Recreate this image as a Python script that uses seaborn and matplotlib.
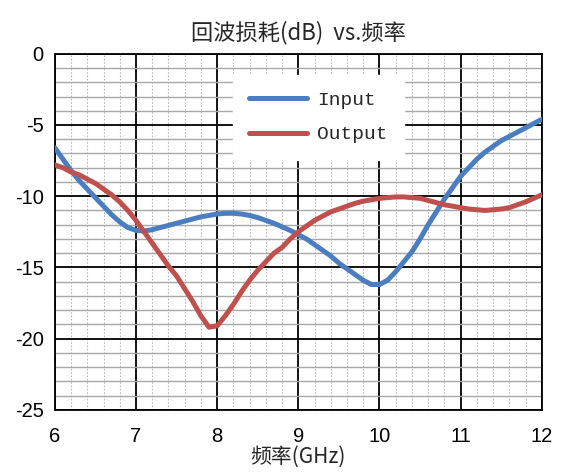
import numpy as np
import pandas as pd
import matplotlib
matplotlib.use("Agg")
import matplotlib.pyplot as plt
import seaborn as sns
from matplotlib.ticker import MultipleLocator

# --- Data (GHz, dB) ---
freq = [6.0, 6.1, 6.2, 6.3, 6.4, 6.5, 6.6, 6.7, 6.8, 6.9,
        7.0, 7.1, 7.2, 7.3, 7.4, 7.5, 7.6, 7.7, 7.8, 7.9,
        8.0, 8.1, 8.2, 8.3, 8.4, 8.5, 8.6, 8.7, 8.8, 8.9,
        9.0, 9.1, 9.2, 9.3, 9.4, 9.5, 9.6, 9.7, 9.8, 9.9,
        10.0, 10.1, 10.2, 10.3, 10.4, 10.5, 10.6, 10.7, 10.8, 10.9,
        11.0, 11.1, 11.2, 11.3, 11.4, 11.5, 11.6, 11.7, 11.8, 11.9,
        12.0]

input_db = [-6.6, -7.4, -8.2, -8.9, -9.5, -10.1, -10.7, -11.3, -11.8, -12.2,
            -12.4, -12.45, -12.35, -12.2, -12.05, -11.9, -11.75, -11.6, -11.45, -11.35,
            -11.25, -11.2, -11.2, -11.25, -11.35, -11.5, -11.7, -11.9, -12.15, -12.4,
            -12.7, -13.0, -13.4, -13.8, -14.2, -14.7, -15.1, -15.5, -15.9, -16.2,
            -16.2, -15.9, -15.3, -14.6, -13.9, -13.0, -12.0, -11.1, -10.2, -9.4,
            -8.6, -8.0, -7.4, -6.9, -6.5, -6.1, -5.8, -5.5, -5.2, -4.9,
            -4.6]

output_db = [-7.8, -8.0, -8.3, -8.5, -8.8, -9.1, -9.5, -9.9, -10.4, -11.0,
             -11.7, -12.5, -13.3, -14.1, -14.9, -15.6, -16.5, -17.4, -18.4, -19.2,
             -19.1, -18.4, -17.6, -16.7, -15.9, -15.2, -14.6, -14.0, -13.6, -13.0,
             -12.5, -12.1, -11.7, -11.4, -11.1, -10.9, -10.7, -10.5, -10.35, -10.25,
             -10.15, -10.1, -10.05, -10.05, -10.1, -10.15, -10.3, -10.45, -10.6, -10.7,
             -10.8, -10.9, -10.95, -11.0, -10.95, -10.9, -10.8, -10.6, -10.4, -10.15,
             -9.9]

series_names = ["Input", "Output"]
series_colors = ["#4A7EC0", "#C0504D"]

title_text = "回波损耗(dB)  vs.频率"
xlabel_text = "频率(GHz)"

df = pd.DataFrame({
    "freq": freq * 2,
    "db": input_db + output_db,
    "series": [series_names[0]] * len(freq) + [series_names[1]] * len(freq),
})

sns.set_style("white")
plt.rcParams["font.family"] = ["Noto Sans CJK SC", "DejaVu Sans"]
plt.rcParams["axes.unicode_minus"] = False

fig = plt.figure(figsize=(5.65, 4.76), dpi=100)
ax = fig.add_axes([0.097, 0.139, 0.862, 0.748])

sns.lineplot(data=df, x="freq", y="db", hue="series", hue_order=series_names,
             palette=series_colors, linewidth=3.6, ax=ax, zorder=5, legend=True)

ax.set_xlim(6, 12)
ax.set_ylim(-25, 0)
ax.xaxis.set_major_locator(MultipleLocator(1))
ax.xaxis.set_minor_locator(MultipleLocator(0.2))
ax.yaxis.set_major_locator(MultipleLocator(5))
ax.yaxis.set_minor_locator(MultipleLocator(1))

# grid: minor first, then major on top
ax.set_axisbelow(True)
ax.grid(which="minor", axis="x", color="#b8b8b8", linestyle=(0, (1.5, 1.5)), linewidth=0.8)
ax.grid(which="minor", axis="y", color="#a8a8a8", linestyle="-", linewidth=1.0)
ax.grid(which="major", axis="both", color="black", linestyle="-", linewidth=1.3)

for sp in ax.spines.values():
    sp.set_color("black")
    sp.set_linewidth(1.3)

ax.tick_params(which="major", direction="inout", length=8, width=1.3, colors="black")
ax.tick_params(which="minor", direction="in", length=4, width=1.0, colors="black")
for lab in ax.get_xticklabels() + ax.get_yticklabels():
    lab.set_fontfamily("Liberation Sans")
    lab.set_fontsize(14.5)
ax.tick_params(axis="x", pad=8)
ax.tick_params(axis="y", pad=4)

ax.set_xlabel(xlabel_text, fontsize=15, labelpad=0)
ax.set_ylabel("")
ax.set_title(title_text, fontsize=16, pad=10)

handles, labels = ax.get_legend_handles_labels()
leg = ax.legend(handles, labels, loc="upper left", bbox_to_anchor=(0.365, 0.94),
                frameon=True, fancybox=False, framealpha=1.0, edgecolor="white",
                prop={"family": "Liberation Mono", "size": 14},
                handlelength=3.0, handletextpad=0.5, labelspacing=0.85,
                borderpad=0.85, borderaxespad=0)
leg.set_zorder(10)
for line in leg.get_lines():
    line.set_linewidth(3.6)

fig.savefig("out.png", dpi=100)
